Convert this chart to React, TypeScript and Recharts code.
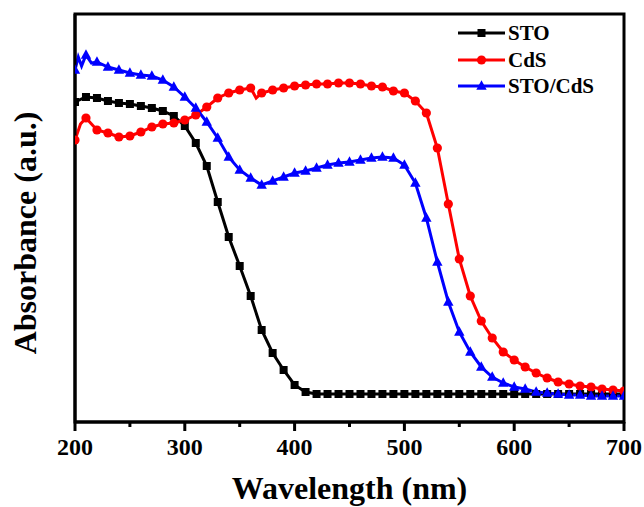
import {
  Legend,
  Line,
  LineChart,
  ReferenceArea,
  XAxis,
  YAxis,
} from "recharts";

const FONT = '"Liberation Serif", "Times New Roman", serif';

// x ticks (nm); labels only on the hundreds
const xTicks = [200, 250, 300, 350, 400, 450, 500, 550, 600, 650, 700];

// STO
const stoWl = [
  200, 210, 220, 230, 240, 250, 260, 270, 280, 290, 300, 310, 320, 330, 340,
  350, 360, 370, 380, 390, 400, 410, 420, 430, 440, 450, 460, 470, 480, 490,
  500, 510, 520, 530, 540, 550, 560, 570, 580, 590, 600, 610, 620, 630, 640,
  650, 660, 670, 680, 690, 700,
];
const stoAbs = [
  3.2, 3.25, 3.24, 3.21, 3.19, 3.18, 3.16, 3.14, 3.11, 3.06, 2.96, 2.79, 2.56,
  2.2, 1.85, 1.56, 1.26, 0.92, 0.69, 0.52, 0.37, 0.3, 0.28, 0.28, 0.28, 0.28,
  0.28, 0.28, 0.28, 0.28, 0.28, 0.28, 0.28, 0.28, 0.28, 0.28, 0.28, 0.28, 0.28,
  0.28, 0.28, 0.28, 0.28, 0.28, 0.28, 0.28, 0.28, 0.28, 0.28, 0.28, 0.28,
];

// CdS (205 and 365 are unmarked wiggles)
const cdsWl = [
  200, 205, 210, 220, 230, 240, 250, 260, 270, 280, 290, 300, 310, 320, 330,
  340, 350, 360, 365, 370, 380, 390, 400, 410, 420, 430, 440, 450, 460, 470,
  480, 490, 500, 510, 520, 530, 540, 550, 560, 570, 580, 590, 600, 610, 620,
  630, 640, 650, 660, 670, 680, 690, 700,
];
const cdsAbs = [
  2.82, 2.98, 3.04, 2.92, 2.89, 2.85, 2.86, 2.9, 2.95, 2.98, 2.99, 3.02, 3.07,
  3.15, 3.24, 3.29, 3.32, 3.34, 3.24, 3.29, 3.32, 3.34, 3.36, 3.37, 3.38, 3.38,
  3.39, 3.39, 3.38, 3.36, 3.35, 3.31, 3.29, 3.21, 3.09, 2.74, 2.18, 1.63, 1.26,
  1.01, 0.84, 0.7, 0.62, 0.55, 0.49, 0.44, 0.4, 0.38, 0.36, 0.35, 0.33, 0.32,
  0.31,
];

// STO/CdS (203, 206, 215 are unmarked wiggles)
const stoCdsWl = [
  200, 203, 206, 210, 215, 220, 230, 240, 250, 260, 270, 280, 290, 300, 310,
  320, 330, 340, 350, 360, 370, 380, 390, 400, 410, 420, 430, 440, 450, 460,
  470, 480, 490, 500, 510, 520, 530, 540, 550, 560, 570, 580, 590, 600, 610,
  620, 630, 640, 650, 660, 670, 680, 690, 700,
];
const stoCdsAbs = [
  3.52, 3.65, 3.56, 3.67, 3.59, 3.6, 3.55, 3.52, 3.49, 3.47, 3.46, 3.42, 3.35,
  3.25, 3.14, 3.0, 2.84, 2.65, 2.52, 2.44, 2.37, 2.41, 2.45, 2.49, 2.51, 2.54,
  2.57, 2.59, 2.6, 2.62, 2.64, 2.65, 2.64, 2.57, 2.39, 2.04, 1.6, 1.2, 0.9, 0.7,
  0.55, 0.45, 0.39, 0.35, 0.33, 0.3, 0.29, 0.28, 0.27, 0.27, 0.26, 0.26, 0.26,
  0.26,
];

const toRows = (wl: number[], abs: number[]) =>
  wl.map((w, i) => ({ wl: w, a: abs[i] }));

const stoData = toRows(stoWl, stoAbs);
const cdsData = toRows(cdsWl, cdsAbs);
const stoCdsData = toRows(stoCdsWl, stoCdsAbs);

type Shape = "square" | "circle" | "triangle";

const SERIES: { name: string; color: string; shape: Shape }[] = [
  { name: "STO", color: "#000000", shape: "square" },
  { name: "CdS", color: "#ff0000", shape: "circle" },
  { name: "STO/CdS", color: "#0000ff", shape: "triangle" },
];

function Marker({ cx, cy, shape, color }: { cx: number; cy: number; shape: Shape; color: string }) {
  if (shape === "square")
    return <rect x={cx - 4} y={cy - 4} width={8} height={8} fill={color} />;
  if (shape === "circle") return <circle cx={cx} cy={cy} r={4.6} fill={color} />;
  return (
    <polygon
      points={`${cx},${cy - 5.8} ${cx - 5.2},${cy + 3.8} ${cx + 5.2},${cy + 3.8}`}
      fill={color}
    />
  );
}

const makeDot = (shape: Shape, color: string) => (props: any) => {
  const { cx, cy, payload, index } = props;
  if (payload.wl % 10 !== 0 || cx == null || cy == null) return <g key={index} />;
  return (
    <g key={index}>
      <Marker cx={cx} cy={cy} shape={shape} color={color} />
    </g>
  );
};

function XTick({ x, y, payload }: any) {
  const major = payload.value % 100 === 0;
  return (
    <g>
      <line x1={x} y1={y} x2={x} y2={y + (major ? 9 : 5)} stroke="#000" strokeWidth={3} />
      {major && (
        <text
          x={x}
          y={y + 33}
          textAnchor="middle"
          fontFamily={FONT}
          fontWeight="bold"
          fontSize={24}
          fill="#000"
        >
          {payload.value}
        </text>
      )}
    </g>
  );
}

function renderLegend() {
  return (
    <div style={{ fontFamily: FONT, fontWeight: "bold", fontSize: 21, color: "#000" }}>
      {SERIES.map((s) => (
        <div key={s.name} style={{ display: "flex", alignItems: "center", height: 26.5 }}>
          <svg width={50} height={20} style={{ display: "block" }}>
            <line x1={0} y1={10} x2={47} y2={10} stroke={s.color} strokeWidth={3} />
            <Marker cx={23.5} cy={10} shape={s.shape} color={s.color} />
          </svg>
          <span style={{ lineHeight: "20px" }}>{s.name}</span>
        </div>
      ))}
    </div>
  );
}

export default function App() {
  return (
    <div style={{ position: "absolute", left: 0, top: 0, background: "#fff" }}>
      <LineChart
        width={644}
        height={507}
        margin={{ top: 14, right: 20, left: 0, bottom: 0 }}
      >
        <XAxis
          dataKey="wl"
          type="number"
          domain={[200, 700]}
          ticks={xTicks}
          interval={0}
          tick={<XTick />}
          tickLine={false}
          tickSize={0}
          tickMargin={0}
          axisLine={{ stroke: "#000", strokeWidth: 3 }}
          height={85}
          allowDataOverflow
          label={{
            content: ({ viewBox }: any) => (
              <text
                x={viewBox.x + viewBox.width / 2}
                y={viewBox.y + 77}
                textAnchor="middle"
                fontFamily={FONT}
                fontWeight="bold"
                fontSize={32}
                fill="#000"
              >
                Wavelength (nm)
              </text>
            ),
          }}
        />
        <YAxis
          type="number"
          domain={[0, 4.08]}
          width={75}
          tick={false}
          tickLine={false}
          axisLine={{ stroke: "#000", strokeWidth: 3 }}
          allowDataOverflow
          label={{
            content: ({ viewBox }: any) => {
              const x = 36;
              const y = viewBox.y + viewBox.height / 2 + 15;
              return (
                <text
                  x={x}
                  y={y}
                  transform={`rotate(-90 ${x} ${y})`}
                  textAnchor="middle"
                  fontFamily={FONT}
                  fontWeight="bold"
                  fontSize={32}
                  fill="#000"
                >
                  Absorbance (a.u.)
                </text>
              );
            },
          }}
        />
        <ReferenceArea
          x1={200}
          x2={700}
          y1={0}
          y2={4.08}
          fill="none"
          stroke="#000"
          strokeWidth={3}
        />
        <Line
          data={stoData}
          dataKey="a"
          name="STO"
          type="linear"
          stroke="#000000"
          strokeWidth={3}
          dot={makeDot("square", "#000000")}
          legendType="line"
          isAnimationActive={false}
        />
        <Line
          data={cdsData}
          dataKey="a"
          name="CdS"
          type="linear"
          stroke="#ff0000"
          strokeWidth={3}
          dot={makeDot("circle", "#ff0000")}
          legendType="line"
          isAnimationActive={false}
        />
        <Line
          data={stoCdsData}
          dataKey="a"
          name="STO/CdS"
          type="linear"
          stroke="#0000ff"
          strokeWidth={3}
          dot={makeDot("triangle", "#0000ff")}
          legendType="line"
          isAnimationActive={false}
        />
        <Legend
          content={renderLegend}
          layout="horizontal"
          verticalAlign="middle"
          align="center"
          wrapperStyle={{ position: "absolute", left: 458, top: 20, width: 180 }}
        />
      </LineChart>
    </div>
  );
}
